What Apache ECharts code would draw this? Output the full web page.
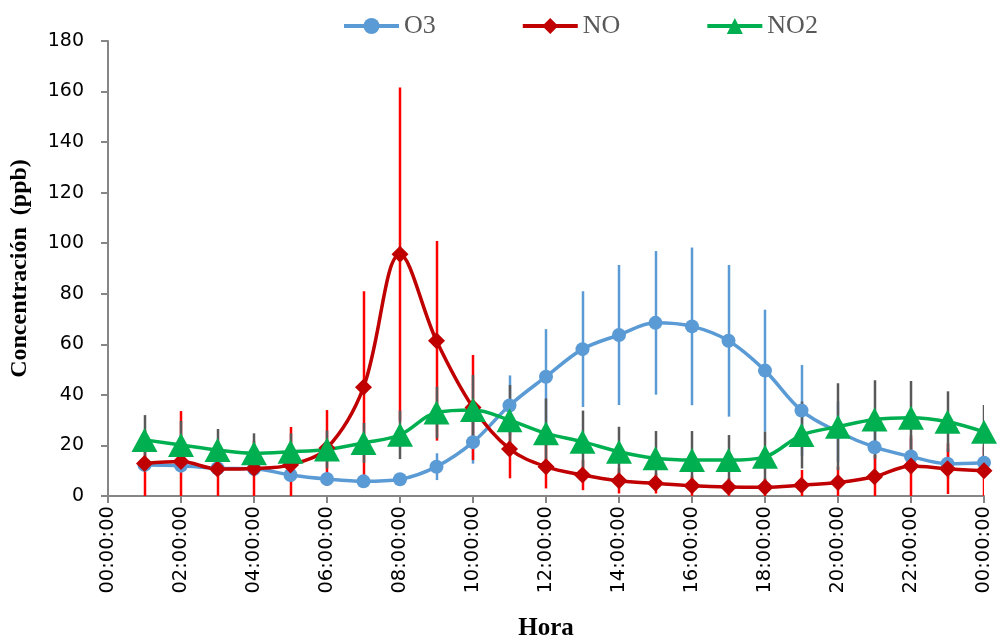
<!DOCTYPE html>
<html>
<head>
<meta charset="utf-8">
<title>Concentración horaria O3, NO, NO2</title>
<script src="https://cdn.jsdelivr.net/npm/echarts@6/dist/echarts.min.js"></script>
<style>
  html, body { margin: 0; padding: 0; background: #fff; }
  #chart { width: 1008px; height: 640px; }
</style>
</head>
<body>
<div id="chart"></div>
<script>
// Hour-of-day categories (00:00 to the next 00:00)
const hours = ['00:00:00','01:00:00','02:00:00','03:00:00','04:00:00','05:00:00','06:00:00',
  '07:00:00','08:00:00','09:00:00','10:00:00','11:00:00','12:00:00','13:00:00','14:00:00',
  '15:00:00','16:00:00','17:00:00','18:00:00','19:00:00','20:00:00','21:00:00','22:00:00',
  '23:00:00','00:00:00'];

// Hourly means (ppb), first slot empty
const o3  = [null, 12.3, 12.0, 11.0, 10.8, 8.3, 6.7, 5.8, 6.6, 11.6, 21.3, 35.8, 47.2, 58.1,
  63.7, 68.5, 67.1, 61.4, 49.6, 33.8, 25.4, 19.3, 15.6, 12.8, 13.2];
const no  = [null, 12.9, 13.6, 10.7, 10.9, 12.3, 19.0, 43.0, 95.6, 61.4, 35.0, 18.6, 11.6, 8.3,
  6.0, 5.0, 4.1, 3.6, 3.5, 4.3, 5.3, 7.6, 11.9, 10.8, 10.0];
const no2 = [null, 22.2, 20.2, 18.2, 16.9, 17.5, 18.4, 21.0, 24.2, 33.0, 34.0, 30.0, 24.8, 21.5,
  17.5, 14.9, 14.2, 14.2, 15.5, 24.1, 27.4, 30.3, 31.0, 29.4, 25.4];

// Standard deviations (ppb)
const o3Sd  = [null, 2.5, 2.5, 2.5, 2.5, 2.5, 2.5, 2.5, 2.5, 5.3, 8.5, 11.9, 18.8, 22.9,
  27.7, 28.4, 31.2, 30.0, 24.1, 18.0, 12.0, 10.0, 7.0, 6.0, 6.0];
const noSd  = [null, 13.0, 20.0, 11.0, 11.0, 15.0, 15.0, 38.0, 66.0, 39.5, 20.8, 11.6, 8.6, 6.0,
  5.0, 4.0, 4.0, 3.5, 3.5, 6.0, 6.3, 8.6, 12.0, 10.0, 10.0];
const no2Sd = [null, 9.8, 9.5, 8.3, 7.9, 7.3, 7.5, 7.9, 9.6, 10.2, 13.9, 13.9, 13.8, 12.3,
  9.9, 10.8, 11.5, 9.9, 10.0, 13.2, 17.2, 15.5, 14.5, 12.0, 10.6];

// Axis ticks
const yTicks = { min: 0, max: 180, step: 20 };

const colO3 = '#5B9BD5', colNO = '#C00000', colNO2 = '#00B050';
const barO3 = '#5B9BD5', barNO = '#FF0000', barNO2 = '#595959';

function errorData(mean, sd) {
  const out = [];
  mean.forEach((m, i) => {
    if (m !== null && sd[i] !== null) out.push([i, m - sd[i], m + sd[i]]);
  });
  return out;
}

// Vertical ±sd whiskers, positioned through the grid's own scales
function errorSeries(name, mean, sd, color) {
  return {
    name: name + ' sd',
    type: 'custom',
    z: 2,
    clip: true,
    silent: true,
    data: errorData(mean, sd),
    encode: { x: 0, y: [1, 2] },
    renderItem: function (params, api) {
      const lo = api.coord([api.value(0), api.value(1)]);
      const hi = api.coord([api.value(0), api.value(2)]);
      const x = Math.round(lo[0]);
      return {
        type: 'line',
        shape: { x1: x, y1: lo[1], x2: x, y2: hi[1] },
        style: { stroke: color, lineWidth: 2.5, fill: null }
      };
    }
  };
}

function lineSeries(name, data, color, symbol, size) {
  return {
    name: name,
    type: 'line',
    z: 3,
    data: data,
    smooth: 0.35,
    connectNulls: false,
    symbol: symbol,
    symbolSize: size,
    showAllSymbol: true,
    lineStyle: { color: color, width: 3.5 },
    itemStyle: { color: color, borderWidth: 0 },
    emphasis: { disabled: true }
  };
}

const chart = echarts.init(document.getElementById('chart'), null, { renderer: 'canvas' });

chart.setOption({
  animation: false,
  backgroundColor: '#ffffff',
  legend: {
    left: 337,
    top: 8,
    itemWidth: 55,
    itemHeight: 20,
    itemGap: 85,
    lineStyle: { width: 4 },
    textStyle: { fontFamily: 'Liberation Serif', fontSize: 26, color: '#595959' },
    data: ['O3', 'NO', 'NO2']
  },
  grid: { left: 108, right: 24, top: 41, bottom: 144, containLabel: false, outerBoundsMode: 'none' },
  xAxis: {
    type: 'category',
    data: hours,
    boundaryGap: false,
    name: 'Hora',
    nameLocation: 'middle',
    nameGap: 120,
    nameTextStyle: { fontFamily: 'Liberation Serif', fontWeight: 'bold', fontSize: 25, color: '#000' },
    axisLine: { lineStyle: { color: '#868686', width: 2 } },
    axisTick: { interval: 1, length: 7, lineStyle: { color: '#868686', width: 2 } },
    axisLabel: {
      interval: 1,
      rotate: 90,
      margin: 10,
      fontFamily: 'DejaVu Sans',
      fontSize: 19.5,
      color: '#000'
    },
    splitLine: { show: false }
  },
  yAxis: {
    type: 'value',
    min: yTicks.min,
    max: yTicks.max,
    interval: yTicks.step,
    name: 'Concentración  (ppb)',
    nameLocation: 'middle',
    nameGap: 76,
    nameRotate: 90,
    nameTextStyle: { fontFamily: 'Liberation Serif', fontWeight: 'bold', fontSize: 24, color: '#000' },
    axisLine: { show: true, lineStyle: { color: '#868686', width: 2 } },
    axisTick: { show: true, length: 7, lineStyle: { color: '#868686', width: 2 } },
    axisLabel: { margin: 24, fontFamily: 'DejaVu Sans', fontSize: 19, color: '#000' },
    splitLine: { show: false }
  },
  series: [
    errorSeries('O3', o3, o3Sd, barO3),
    errorSeries('NO', no, noSd, barNO),
    errorSeries('NO2', no2, no2Sd, barNO2),
    lineSeries('O3', o3, colO3, 'circle', 14),
    lineSeries('NO', no, colNO, 'diamond', 17),
    lineSeries('NO2', no2, colNO2, 'triangle', [26, 24])
  ]
});
</script>
</body>
</html>
